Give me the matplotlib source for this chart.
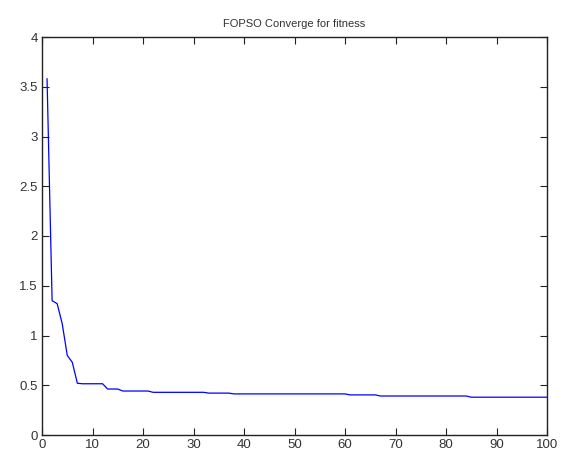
import matplotlib
matplotlib.use("Agg")
import matplotlib.pyplot as plt
import numpy as np

# best fitness per iteration of the FOPSO run
iterations = np.arange(1, 101)
early_fitness = [3.58, 1.35, 1.32, 1.12, 0.80, 0.73, 0.52]
# (last iteration, value) for the flat stretches after the fast drop
plateaus = [(12, 0.515), (15, 0.462), (21, 0.442), (32, 0.429),
            (37, 0.421), (60, 0.413), (66, 0.403), (84, 0.392), (100, 0.380)]

fitness = list(early_fitness)
for last, val in plateaus:
    fitness += [val] * (last - len(fitness))

plt.rcParams['font.family'] = ['Liberation Sans', 'DejaVu Sans']

fig = plt.figure(figsize=(5.63, 4.72), dpi=100)
ax = fig.add_axes([42 / 563, 37 / 472, 505 / 563, 398 / 472])

ax.plot(iterations, fitness, color='blue', linewidth=0.9)

ax.set_xlim(0, 100)
ax.set_ylim(0, 4)
ax.set_xticks(np.arange(0, 101, 10))
ax.set_yticks(np.arange(0, 4.01, 0.5))
ax.set_yticklabels(['0', '0.5', '1', '1.5', '2', '2.5', '3', '3.5', '4'])

ax.tick_params(direction='in', length=5, width=0.8, top=True, right=True,
               labelsize=9.5, labelcolor='#333333', pad=3, color='#222222')
for s in ax.spines.values():
    s.set_linewidth(1.0)
    s.set_color('#222222')

ax.set_title('FOPSO Converge for fitness', fontsize=8, color='#333333', pad=7)

fig.savefig('out.png', dpi=100)
